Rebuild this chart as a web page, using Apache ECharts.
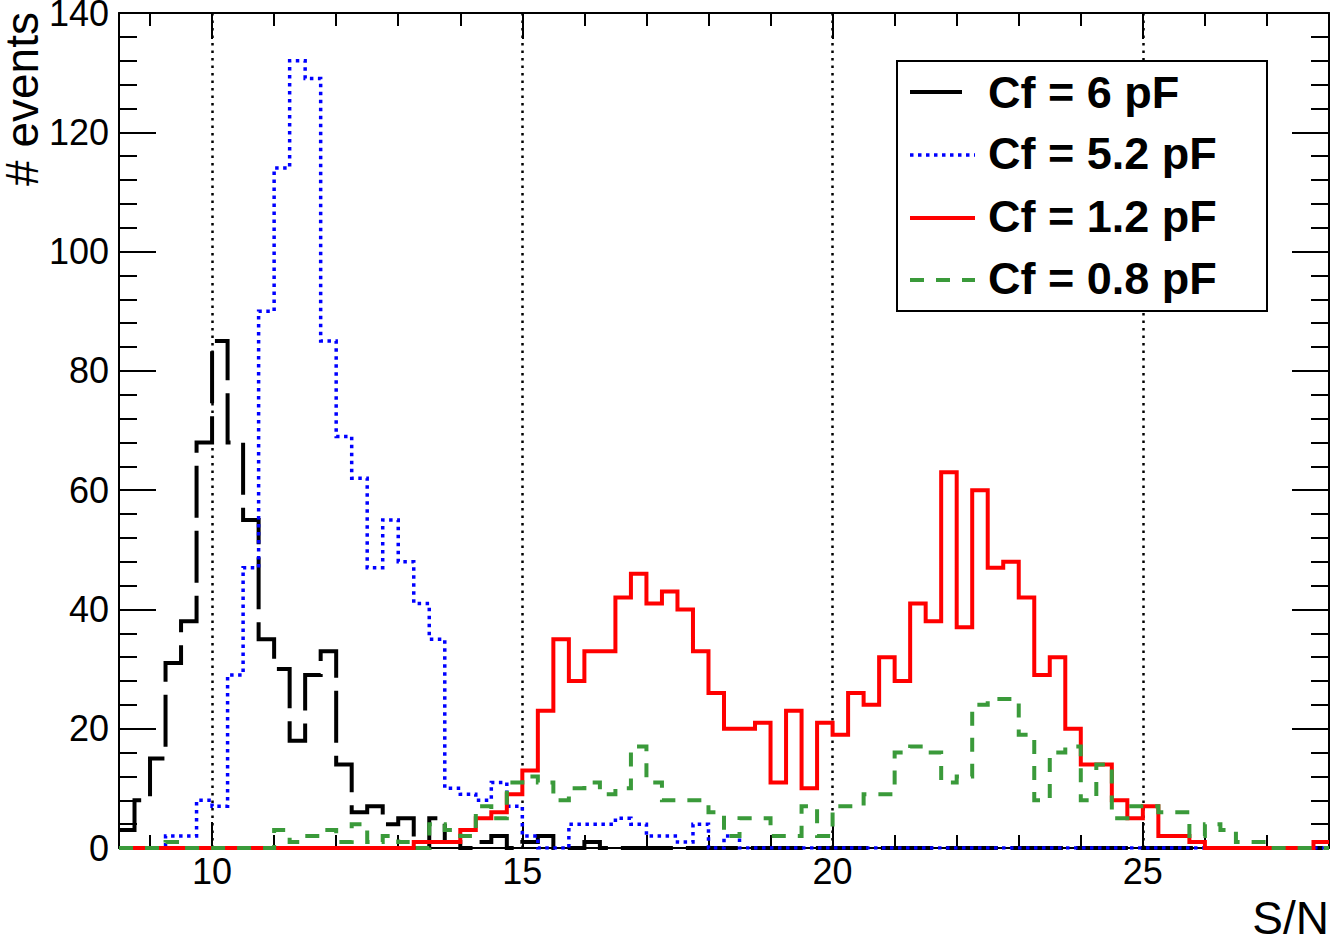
<!DOCTYPE html>
<html>
<head>
<meta charset="utf-8">
<script src="https://cdn.jsdelivr.net/npm/echarts@6/dist/echarts.min.js"></script>
<style>
  html, body { margin: 0; padding: 0; background: #ffffff; }
  #chart { width: 1330px; height: 943px; }
</style>
</head>
<body>
<div id="chart"></div>
<script>
// S/N binning shared by all histograms
const binStart = 8.5;
const binWidth = 0.25;
const binCount = 78;

// Event counts per bin
const cf6 = [
  3, 8, 15, 31, 38, 68, 85, 68, 55, 35,
  30, 18, 29, 33, 14, 6, 7, 4, 5, 0,
  5, 1, 0, 1, 2, 0, 1, 2, 0, 0,
  1, 0, 0, 0, 0, 0, 0, 0, 0, 0,
  0, 0, 0, 0, 0, 0, 0, 0, 0, 0,
  0, 0, 0, 0, 0, 0, 0, 0, 0, 0,
  0, 0, 0, 0, 0, 0, 0, 0, 0, 0,
  0, 0, 0, 0, 0, 0, 0, 0
];
const cf52 = [
  0, 0, 0, 2, 2, 8, 7, 29, 47, 90,
  114, 132, 129, 85, 69, 62, 47, 55, 48, 41,
  35, 10, 9, 8, 11, 7, 2, 0, 0, 4,
  4, 4, 5, 4, 2, 2, 1, 4, 0, 2,
  0, 0, 0, 0, 0, 0, 0, 0, 0, 0,
  0, 0, 0, 0, 0, 0, 0, 0, 0, 0,
  0, 0, 0, 0, 0, 0, 0, 0, 0, 0,
  0, 0, 0, 0, 0, 0, 0, 0
];
const cf12 = [
  0, 0, 0, 0, 0, 0, 0, 0, 0, 0,
  0, 0, 0, 0, 0, 0, 0, 0, 0, 1,
  1, 1, 3, 5, 6, 9, 13, 23, 35, 28,
  33, 33, 42, 46, 41, 43, 40, 33, 26, 20,
  20, 21, 11, 23, 10, 21, 19, 26, 24, 32,
  28, 41, 38, 63, 37, 60, 47, 48, 42, 29,
  32, 20, 14, 14, 8, 5, 7, 2, 2, 1,
  0, 0, 0, 0, 0, 0, 0, 1
];
const cf08 = [
  0, 0, 0, 1, 0, 0, 0, 0, 0, 0,
  3, 1, 2, 3, 1, 4, 1, 2, 1, 0,
  4, 3, 2, 7, 5, 11, 12, 11, 8, 10,
  11, 9, 10, 17, 11, 8, 8, 8, 6, 2,
  5, 5, 2, 2, 7, 2, 7, 7, 9, 9,
  16, 17, 16, 11, 12, 24, 25, 25, 19, 8,
  16, 17, 8, 14, 5, 7, 7, 6, 6, 2,
  4, 3, 1, 1, 0, 0, 0, 0
];

const seriesNames = ['Cf = 6 pF', 'Cf = 5.2 pF', 'Cf = 1.2 pF', 'Cf = 0.8 pF'];

// Axis tick positions
const xMajorTicks = [10, 15, 20, 25];
const xMinorTicks = [9, 11, 12, 13, 14, 16, 17, 18, 19, 21, 22, 23, 24, 26, 27];
const xTitle = 'S/N';
const yTitle = '# events';

// ---------------------------------------------------------------------------
const FONT = '"Liberation Sans", Arial, Helvetica, sans-serif';
const BLACK = '#000000';

const lineStyles = [
  { color: '#000000', width: 4, dash: [52, 13] },
  { color: '#0000ff', width: 3.5, dash: [3.5, 4.5] },
  { color: '#ff0000', width: 4, dash: 'solid' },
  { color: '#3a9a3a', width: 4, dash: [14, 12] }
];

// Left edge of every bin plus the right edge of the last one, for step drawing
function stepData(counts) {
  const pts = counts.map((c, i) => [binStart + i * binWidth, c]);
  pts.push([binStart + binCount * binWidth, counts[counts.length - 1]]);
  return pts;
}

const xMin = binStart;
const xMax = binStart + binCount * binWidth;

const axisLine = { show: true, onZero: false, lineStyle: { color: BLACK, width: 2 } };
const tickLine = { color: BLACK, width: 2 };

function xAxisDef(position, ticks, length, withLine, withLabels) {
  return {
    type: 'value', min: xMin, max: xMax, position: position,
    axisLine: withLine ? axisLine : { show: false, onZero: false },
    axisTick: { show: true, inside: true, length: length, customValues: ticks, lineStyle: tickLine },
    minorTick: { show: false },
    axisLabel: withLabels
      ? { show: true, customValues: ticks, margin: 5, color: BLACK, fontSize: 36, fontFamily: FONT }
      : { show: false },
    splitLine: withLabels
      ? { show: true, lineStyle: { color: BLACK, width: 2.5, type: [2.5, 5] } }
      : { show: false }
  };
}

function yAxisDef(position, withLabels) {
  return {
    type: 'value', min: 0, max: 140, interval: 20, position: position,
    axisLine: axisLine,
    axisTick: { show: true, inside: true, length: 37, lineStyle: tickLine },
    minorTick: { show: true, splitNumber: 5, length: 18, lineStyle: tickLine },
    axisLabel: withLabels
      ? { show: true, margin: 10, color: BLACK, fontSize: 36, lineHeight: 28, fontFamily: FONT }
      : { show: false },
    splitLine: { show: false }
  };
}

const allCounts = [cf6, cf52, cf12, cf08];

const series = allCounts.map((counts, k) => ({
  name: seriesNames[k],
  type: 'line',
  step: 'end',
  data: stepData(counts),
  xAxisIndex: 0,
  yAxisIndex: 0,
  symbol: 'none',
  showSymbol: false,
  silent: true,
  clip: true,
  z: 3 + k,
  itemStyle: { color: lineStyles[k].color },
  lineStyle: {
    color: lineStyles[k].color,
    width: lineStyles[k].width,
    type: lineStyles[k].dash,
    cap: 'butt',
    join: 'miter'
  },
  emphasis: { disabled: true }
}));

// Legend box drawn as graphic elements
const legendBox = { x: 897, y: 61, w: 370, h: 250 };
const legendRowsY = [92, 155, 218, 280];
const legendTextY = [92, 153, 216, 278];
const legendLineEnds = [962, 975, 975, 975];

const legendElements = [
  {
    type: 'rect', z: 100,
    shape: { x: legendBox.x, y: legendBox.y, width: legendBox.w, height: legendBox.h },
    style: { fill: '#ffffff', stroke: BLACK, lineWidth: 2 }
  }
];
seriesNames.forEach((name, k) => {
  const st = lineStyles[k];
  legendElements.push({
    type: 'line', z: 101,
    shape: { x1: 910, y1: legendRowsY[k], x2: legendLineEnds[k], y2: legendRowsY[k] },
    style: {
      stroke: st.color, lineWidth: st.width,
      lineDash: Array.isArray(st.dash) ? st.dash : null
    }
  });
  legendElements.push({
    type: 'text', z: 101,
    x: 988, y: legendTextY[k],
    style: {
      text: name, fill: BLACK,
      font: 'bold 45px ' + FONT,
      textAlign: 'left', textVerticalAlign: 'middle',
      align: 'left', verticalAlign: 'middle'
    }
  });
});

const titleElements = [
  {
    type: 'text', z: 50,
    x: 1329, y: 918,
    style: {
      text: xTitle, fill: BLACK, font: '46px ' + FONT,
      textAlign: 'right', textVerticalAlign: 'middle',
      align: 'right', verticalAlign: 'middle'
    }
  },
  {
    type: 'text', z: 50,
    x: 22, y: 12, rotation: Math.PI / 2,
    style: {
      text: yTitle, fill: BLACK, font: '46px ' + FONT,
      textAlign: 'right', textVerticalAlign: 'middle',
      align: 'right', verticalAlign: 'middle'
    }
  }
];

const option = {
  animation: false,
  backgroundColor: '#ffffff',
  grid: { left: 119, top: 13, width: 1210, height: 835, containLabel: false, outerBoundsMode: 'none' },
  xAxis: [
    xAxisDef('bottom', xMajorTicks, 26, true, true),
    xAxisDef('bottom', xMinorTicks, 13, false, false),
    xAxisDef('top', xMajorTicks, 26, true, false),
    xAxisDef('top', xMinorTicks, 13, false, false)
  ],
  yAxis: [
    yAxisDef('left', true),
    yAxisDef('right', false)
  ],
  series: series,
  graphic: { elements: legendElements.concat(titleElements) }
};

const chart = echarts.init(document.getElementById('chart'), null, { renderer: 'svg', width: 1330, height: 943 });
chart.setOption(option);
</script>
</body>
</html>
